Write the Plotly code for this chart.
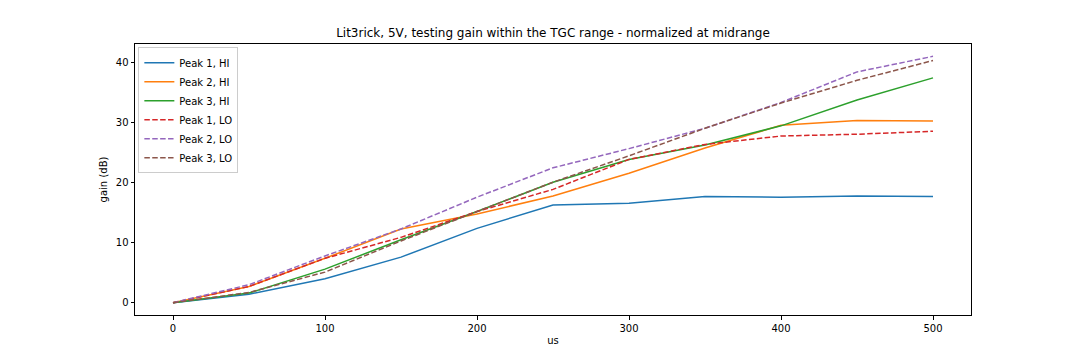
import plotly.graph_objects as go

us = [0, 50, 100, 150, 200, 250, 300, 350, 400, 450, 500]

peak1_hi = [0, 1.4, 4.0, 7.6, 12.4, 16.3, 16.6, 17.7, 17.6, 17.8, 17.7]
peak2_hi = [0, 2.7, 7.4, 12.3, 14.8, 17.8, 21.6, 25.8, 29.6, 30.4, 30.3]
peak3_hi = [0, 1.6, 5.6, 10.5, 15.2, 20.1, 23.9, 26.3, 29.5, 33.8, 37.5]
peak1_lo = [0, 2.7, 7.4, 10.9, 15.2, 18.9, 23.9, 26.4, 27.8, 28.1, 28.6]
peak2_lo = [0, 3.0, 7.8, 12.3, 17.6, 22.5, 25.7, 29.1, 33.4, 38.5, 41.1]
peak3_lo = [0, 1.7, 5.1, 10.3, 15.2, 20.1, 24.5, 29.1, 33.3, 37.1, 40.4]

series = [
    ("Peak 1, HI", peak1_hi, "#1f77b4", "solid"),
    ("Peak 2, HI", peak2_hi, "#ff7f0e", "solid"),
    ("Peak 3, HI", peak3_hi, "#2ca02c", "solid"),
    ("Peak 1, LO", peak1_lo, "#d62728", "5.5px,2.4px"),
    ("Peak 2, LO", peak2_lo, "#9467bd", "5.5px,2.4px"),
    ("Peak 3, LO", peak3_lo, "#8c564b", "5.5px,2.4px"),
]

fig = go.Figure()
for name, vals, color, dash in series:
    fig.add_trace(go.Scatter(
        x=us, y=vals, name=name, mode="lines",
        line=dict(color=color, width=1.5, dash=dash),
    ))

axis_common = dict(
    showline=True, linecolor="black", linewidth=1, mirror=True,
    ticks="outside", ticklen=3.5, tickwidth=0.8, tickcolor="black",
    showgrid=False, zeroline=False,
    tickfont=dict(family="DejaVu Sans", size=10, color="black"),
)

# page body has an 8px margin, so offsets are reduced by 8px
fig.update_layout(
    width=1080, height=360,
    paper_bgcolor="white", plot_bgcolor="white",
    margin=dict(l=127, r=117, t=36, b=53),
    font=dict(family="DejaVu Sans", size=10, color="black"),
    title=dict(
        text="Lit3rick, 5V, testing gain within the TGC range - normalized at midrange",
        x=(127 + 963) / 2 / 1080, xanchor="center", y=1 - 25 / 360, yanchor="middle",
        font=dict(family="DejaVu Sans", size=12, color="black"),
    ),
    xaxis=dict(
        range=[-25, 525], tickvals=[0, 100, 200, 300, 400, 500],
        title=dict(text="us", standoff=4, font=dict(size=10)),
        **axis_common,
    ),
    yaxis=dict(
        range=[-2.055, 43.155], tickvals=[0, 10, 20, 30, 40],
        title=dict(text="gain (dB)", standoff=6, font=dict(size=10)),
        **axis_common,
    ),
    legend=dict(
        x=0.004, y=0.988, xanchor="left", yanchor="top",
        bgcolor="rgba(255,255,255,0.8)", bordercolor="#cccccc", borderwidth=1,
        font=dict(family="DejaVu Sans", size=10, color="black"),
        tracegroupgap=0, itemwidth=30,
    ),
)

fig.write_html("out.html")
